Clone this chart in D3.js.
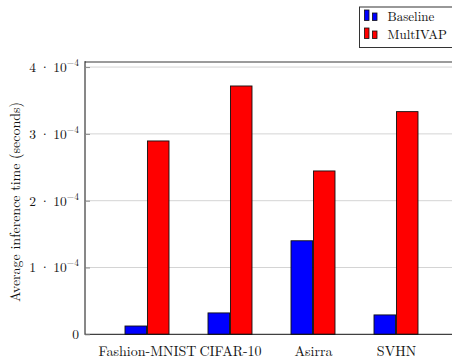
<!DOCTYPE html>
<html>
<head>
<meta charset="utf-8">
<script src="https://cdn.jsdelivr.net/npm/d3@7/dist/d3.min.js"></script>
<style>
  html, body { margin: 0; padding: 0; background: #fff; }
  svg { display: block; }
  svg text { font-family: "Latin Modern Roman", "Liberation Serif", serif; fill: #111; }
</style>
</head>
<body>
<svg id="chart" width="452" height="360"></svg>
<script>
// Datasets on the x axis
const categories = ["Fashion-MNIST", "CIFAR-10", "Asirra", "SVHN"];
// Average inference time (seconds) per dataset
const baselineValues = [1.24e-5, 3.2e-5, 1.40e-4, 2.9e-5];
const multivapValues = [2.894e-4, 3.717e-4, 2.445e-4, 3.333e-4];
const seriesNames = ["Baseline", "MultIVAP"];
const seriesColors = ["#0000ff", "#ff0000"];
const yTicks = [0, 1e-4, 2e-4, 3e-4, 4e-4];

const svg = d3.select("#chart");
const W = 452, H = 360;
const plotLeft = 85, plotTop = 62, plotBottom = 334.3;
const FONT = "\"Latin Modern Roman\", \"Liberation Serif\", serif";

const y = d3.scaleLinear().domain([0, 4.076e-4]).range([plotBottom, plotTop]);
const x = d3.scalePoint().domain(categories).range([147, 396]);
const xs = d3.scaleBand().domain(seriesNames).range([-22, 22]).paddingInner(0.04);

// Horizontal grid lines
svg.append("g").selectAll("line").data(yTicks.filter(d => d > 0)).join("line")
  .attr("x1", plotLeft).attr("x2", W)
  .attr("y1", d => y(d)).attr("y2", d => y(d))
  .attr("stroke", "#d4d4d4").attr("stroke-width", 1);

// Bars
const rows = categories.map((c, i) => ({ c, vals: [baselineValues[i], multivapValues[i]] }));
const groups = svg.append("g").selectAll("g").data(rows).join("g")
  .attr("transform", d => `translate(${x(d.c)},0)`);
groups.selectAll("rect").data(d => d.vals.map((v, k) => ({ v, s: seriesNames[k], k })))
  .join("rect")
  .attr("x", d => xs(d.s))
  .attr("width", xs.bandwidth())
  .attr("y", d => y(d.v))
  .attr("height", d => y(0) - y(d.v))
  .attr("fill", d => seriesColors[d.k])
  .attr("stroke", "#111").attr("stroke-width", 0.9);

// Frame: top line (gray), left and bottom axes
svg.append("line").attr("x1", plotLeft).attr("x2", W).attr("y1", plotTop).attr("y2", plotTop)
  .attr("stroke", "#7a7a7a").attr("stroke-width", 1.6);
svg.append("line").attr("x1", plotLeft).attr("x2", W).attr("y1", plotBottom).attr("y2", plotBottom)
  .attr("stroke", "#111").attr("stroke-width", 1);
svg.append("line").attr("x1", plotLeft).attr("x2", plotLeft).attr("y1", plotTop - 0.8).attr("y2", plotBottom + 0.5)
  .attr("stroke", "#111").attr("stroke-width", 1);

// Y axis ticks and labels (m · 10^-4)
const yAxis = d3.axisLeft(y).tickValues(yTicks).tickSize(0).tickFormat("");
const ya = svg.append("g").attr("transform", `translate(${plotLeft},0)`).call(yAxis);
ya.select(".domain").remove();
ya.attr("font-family", null);
ya.selectAll(".tick").append("line").attr("x1", 0).attr("x2", 5)
  .attr("stroke", "#8a8a8a").attr("stroke-width", 1);
ya.selectAll(".tick").each(function(d) {
  const t = d3.select(this).append("text")
    .attr("x", -6).attr("y", 4.5)
    .attr("text-anchor", "end")
    .style("font-family", FONT)
    .style("font-size", "13.5px");
  if (d === 0) { t.text("0"); return; }
  const m = Math.round(d / 1e-4);
  t.append("tspan").text(m + "\u2005\u00B7\u200510");
  t.append("tspan").attr("dy", -6).style("font-size", "9.5px").text("\u2212" + 4);
});

// X axis labels
const xAxis = d3.axisBottom(x).tickSize(0);
const xa = svg.append("g").attr("transform", `translate(0,${plotBottom})`).call(xAxis);
xa.select(".domain").remove();
xa.attr("font-family", null);
xa.selectAll("text").attr("dy", 0).attr("y", 21.5)
  .style("font-size", "14px").style("font-family", FONT).attr("fill", "#111");

// Y axis title
svg.append("text")
  .attr("transform", `translate(20,${202}) rotate(-90)`)
  .attr("text-anchor", "middle")
  .style("font-family", FONT)
  .style("font-size", "14px")
  .text("Average inference time (seconds)");

// Legend
const lg = svg.append("g");
lg.append("rect").attr("x", 359.5).attr("y", 7).attr("width", 100).attr("height", 40.5)
  .attr("fill", "#fff").attr("stroke", "#333").attr("stroke-width", 1);
seriesNames.forEach((name, i) => {
  const by = 20.5 + i * 18;
  lg.append("rect").attr("x", 364.5).attr("y", by - 10.5).attr("width", 4.5).attr("height", 10.5)
    .attr("fill", seriesColors[i]).attr("stroke", "#111").attr("stroke-width", 0.8);
  lg.append("rect").attr("x", 372.5).attr("y", by - 7.5).attr("width", 4.5).attr("height", 7.5)
    .attr("fill", seriesColors[i]).attr("stroke", "#111").attr("stroke-width", 0.8);
  lg.append("text").attr("x", 387.5).attr("y", by + 0.5)
    .style("font-family", FONT).style("font-size", "13px").text(name);
});
</script>
</body>
</html>
